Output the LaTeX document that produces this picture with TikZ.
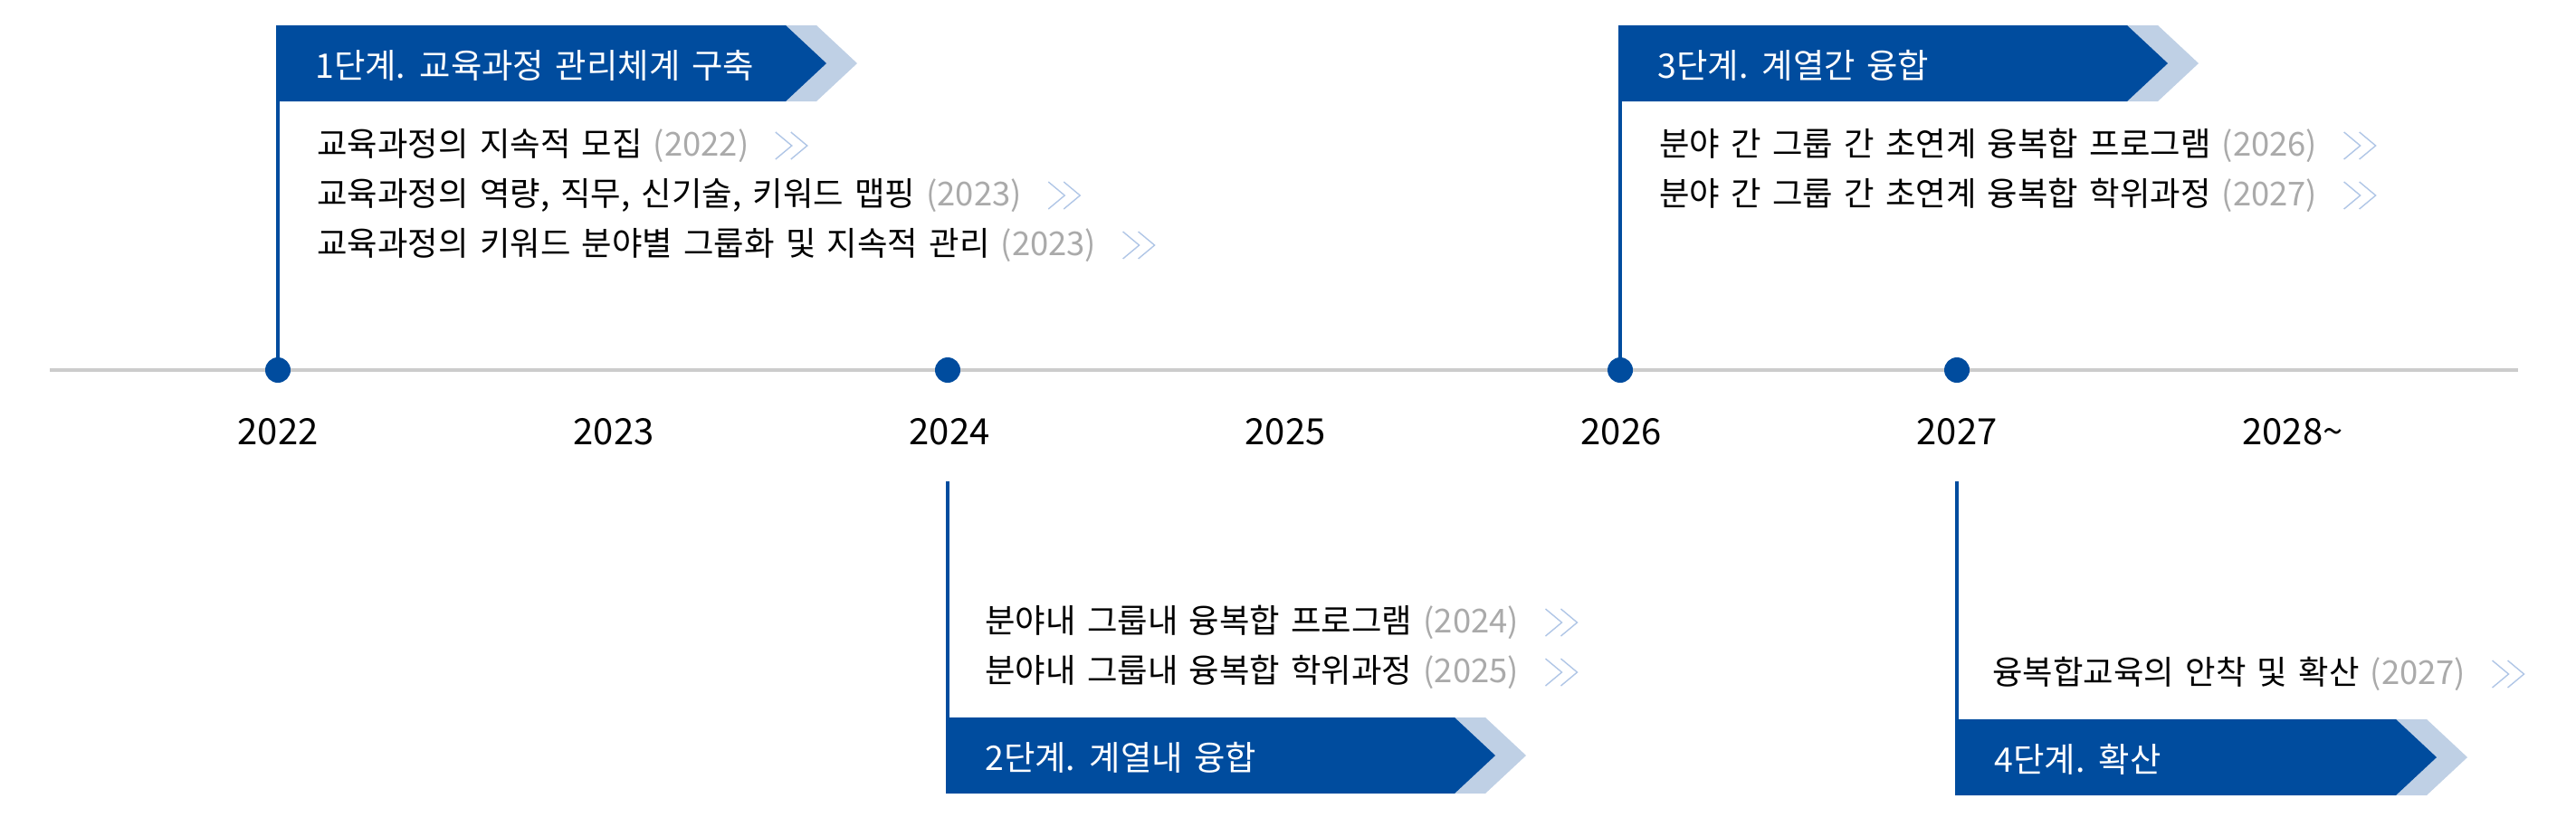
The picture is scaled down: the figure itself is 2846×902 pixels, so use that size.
\documentclass[tikz,border=0pt]{standalone}
\usepackage{fontspec}
\setmainfont{Noto Sans CJK KR}[WordSpace=1.5]
\definecolor{bannerblue}{RGB}{0,76,158}
\definecolor{bannerlight}{RGB}{191,208,229}
\definecolor{tlgray}{RGB}{204,204,204}
\definecolor{yeargray}{RGB}{170,170,170}
\definecolor{chevblue}{RGB}{176,198,230}
\tikzset{
  dot/.style={circle,fill=bannerblue,inner sep=0pt,minimum size=14pt},
  vline/.style={draw=bannerblue,line width=2pt},
  bannertext/.style={anchor=west,inner sep=0pt,text=white,font=\fontsize{18.7pt}{22pt}\selectfont},
  itemtext/.style={anchor=west,inner sep=0pt,text=black,font=\fontsize{18.2pt}{21pt}\selectfont},
  yeartext/.style={inner sep=0pt,text=black,font=\fontsize{20pt}{24pt}\selectfont},
  chevline/.style={draw=chevblue,line width=0.7pt},
  chev/.pic={\draw[chevline] (0,-15) -- (18,0) -- (0,15) (17,-15) -- (35,0) -- (17,15);}
}
\newcommand{\yr}[1]{{\color{yeargray}#1}}
\newcommand{\stagebanner}[5]{%
  \fill[bannerlight] (#4,#3) -- ({#4+34},#3) -- ({#4+79},{#3+42}) -- ({#4+34},{#3+84}) -- (#4,{#3+84}) -- cycle;
  \fill[bannerblue] (#2,#3) -- (#4,#3) -- ({#4+45},{#3+42}) -- (#4,{#3+84}) -- (#2,{#3+84}) -- cycle;
  \coordinate (#1-top) at ({#2+2},#3);
  \coordinate (#1-bot) at ({#2+2},{#3+84});
  \node[bannertext] (#1-t) at ({#2+43},{#3+44}) {#5};
}
\begin{document}
\begin{tikzpicture}[x=0.5pt,y=-0.5pt]
\useasboundingbox (0,0) rectangle (2846,902);
% timeline
\coordinate (tlstart) at (55,409);
\coordinate (tlend) at (2782,409);
\draw[draw=tlgray,line width=2.2pt] (tlstart) -- (tlend);
% banners
\stagebanner{s1}{305}{28}{868}{1단계. 교육과정 관리체계 구축}
\stagebanner{s2}{1045}{793}{1607}{2단계. 계열내 융합}
\stagebanner{s3}{1788}{28}{2350}{3단계. 계열간 융합}
\stagebanner{s4}{2160}{795}{2647}{4단계. 확산}
% dots
\node[dot] (d22) at (307,409) {};
\node[dot] (d24) at (1047,409) {};
\node[dot] (d26) at (1790,409) {};
\node[dot] (d27) at (2162,409) {};
% vertical lines
\coordinate (v2top) at (1047,532);
\coordinate (v4top) at (2162,532);
\draw[vline] (s1-bot) -- (d22.center);
\draw[vline] (s3-bot) -- (d26.center);
\draw[vline] (v2top) -- (s2-top);
\draw[vline] (v4top) -- (s4-top);
% year labels
\node[yeartext] (y22) at (307,477) {2022};
\node[yeartext] (y23) at (678,477) {2023};
\node[yeartext] (y24) at (1049,477) {2024};
\node[yeartext] (y25) at (1420,477) {2025};
\node[yeartext] (y26) at (1791,477) {2026};
\node[yeartext] (y27) at (2162,477) {2027};
\node[yeartext] (y28) at (2533,477) {2028\textasciitilde};
% stage 1 items
\node[itemtext] (i11) at (350,161) {교육과정의 지속적 모집 \yr{(2022)}};
\node[itemtext] (i12) at (350,216) {교육과정의 역량, 직무, 신기술, 키워드 맵핑 \yr{(2023)}};
\node[itemtext] (i13) at (350,271) {교육과정의 키워드 분야별 그룹화 및 지속적 관리 \yr{(2023)}};
% stage 2 items
\node[itemtext] (i21) at (1088,688) {분야내 그룹내 융복합 프로그램 \yr{(2024)}};
\node[itemtext] (i22) at (1088,743) {분야내 그룹내 융복합 학위과정 \yr{(2025)}};
% stage 3 items
\node[itemtext] (i31) at (1833,161) {분야 간 그룹 간 초연계 융복합 프로그램 \yr{(2026)}};
\node[itemtext] (i32) at (1833,216) {분야 간 그룹 간 초연계 융복합 학위과정 \yr{(2027)}};
% stage 4 item
\node[itemtext] (i41) at (2201,745) {융복합교육의 안착 및 확산 \yr{(2027)}};
% chevrons
\foreach \n in {i11,i12,i13,i21,i22,i31,i32,i41}{
  \pic at ([xshift=14.5pt]\n.east) {chev};
}
\end{tikzpicture}
\end{document}
